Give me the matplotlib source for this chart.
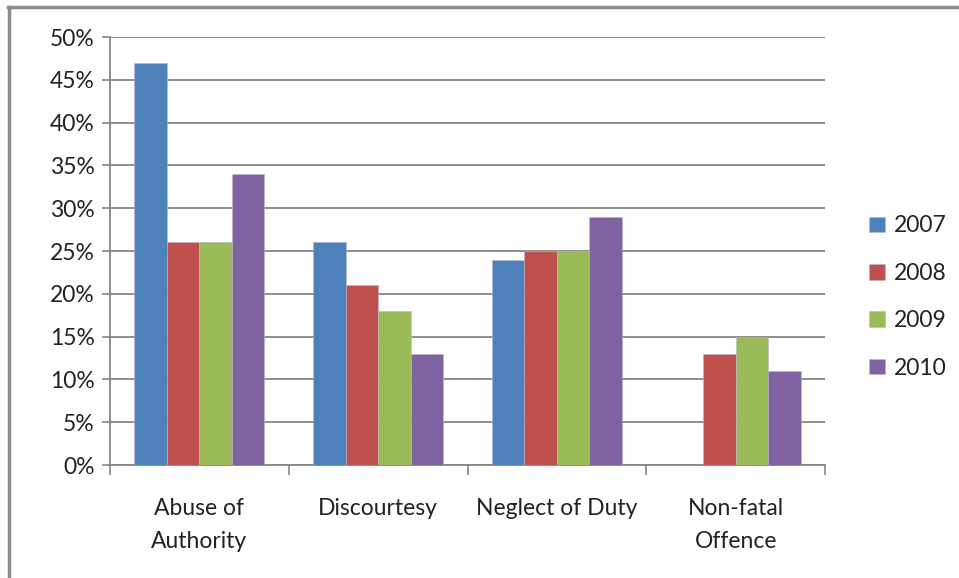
import matplotlib
matplotlib.use("Agg")
import matplotlib.pyplot as plt
import numpy as np
from matplotlib.lines import Line2D
from matplotlib.patches import Patch

categories = ["Abuse of\nAuthority", "Discourtesy", "Neglect of Duty", "Non-fatal\nOffence"]
years = ["2007", "2008", "2009", "2010"]
values_2007 = [47, 26, 24, np.nan]
values_2008 = [26, 21, 25, 13]
values_2009 = [26, 18, 25, 15]
values_2010 = [34, 13, 29, 11]
series = [values_2007, values_2008, values_2009, values_2010]
y_ticks = [0, 5, 10, 15, 20, 25, 30, 35, 40, 45, 50]

COLORS = ["#4F81BD", "#C0504D", "#9BBB59", "#8064A2"]
GRID = "#868686"

plt.rcParams["font.family"] = ["Lato", "DejaVu Sans"]

fig = plt.figure(figsize=(9.59, 5.78), dpi=100)
ax = fig.add_axes([110 / 959, 1 - 465 / 578, 715 / 959, 428 / 578])

x = np.arange(len(categories))
bar_w = 0.727 / 4
for i, (vals, color) in enumerate(zip(series, COLORS)):
    offs = (i - 1.5) * bar_w
    ax.bar(x + offs, vals, bar_w, color=color, edgecolor="#B8B8C8",
           linewidth=0.4, label=years[i], zorder=3)

ax.set_xlim(-0.5, len(categories) - 0.5)
ax.set_ylim(0, 50)
ax.set_yticks(y_ticks)
ax.set_yticklabels([f"{t}%" for t in y_ticks], fontsize=16.5, color="#222222")
ax.yaxis.grid(True, color=GRID, linewidth=1.3, zorder=0)
ax.tick_params(axis="y", length=6, width=1.2, color=GRID, pad=5)

ax.set_xticks(x)
ax.set_xticklabels(categories, fontsize=16.5, color="#222222", linespacing=1.7)
ax.tick_params(axis="x", which="major", length=0, pad=24)
ax.set_xticks(np.arange(-0.5, len(categories)), minor=True)
ax.tick_params(axis="x", which="minor", length=7, width=1.2, color=GRID)

for side in ["top", "right"]:
    ax.spines[side].set_visible(False)
for side in ["left", "bottom"]:
    ax.spines[side].set_color(GRID)
    ax.spines[side].set_linewidth(1.3)

handles = [Patch(facecolor=c, edgecolor="#B8B8C8", linewidth=0.4) for c in COLORS]
leg = fig.legend(handles, years, loc="upper left", bbox_to_anchor=(858 / 959, 1 - 204 / 578),
                 frameon=False, fontsize=16.5, handlelength=0.68, handleheight=0.68,
                 handletextpad=0.4, labelspacing=1.15, borderpad=0)
for t in leg.get_texts():
    t.set_color("#222222")

# chart frame (top and left edges visible)
fig.add_artist(Line2D([8 / 959, 1.0], [1 - 7 / 578, 1 - 7 / 578], color="#8C8C8C", linewidth=2.5,
                      transform=fig.transFigure))
fig.add_artist(Line2D([9 / 959, 9 / 959], [0, 1 - 7 / 578], color="#8C8C8C", linewidth=2.5,
                      transform=fig.transFigure))

fig.savefig("out.png", dpi=100, facecolor="white")
